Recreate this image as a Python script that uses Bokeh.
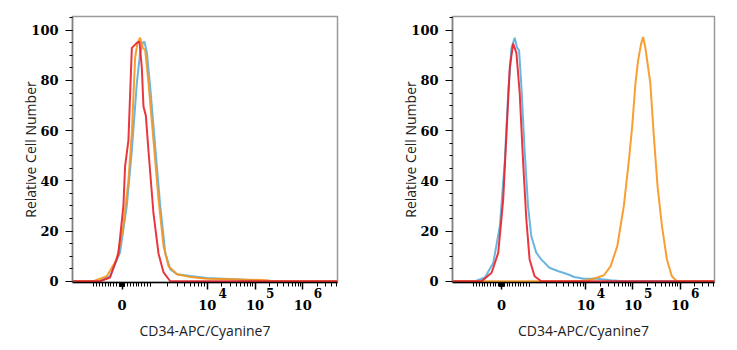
import numpy as np
from bokeh.plotting import figure
from bokeh.layouts import row
from bokeh.models import FixedTicker, Range1d, LinearAxis
from bokeh.embed import file_html
from bokeh.resources import INLINE

# x values are in display (biexponential) units: 0 -> 2.21, 10^4 -> 4, 10^5 -> 5, 10^6 -> 6
ZERO_POS = 2.21
THOUSAND_POS = 2.8
POWER_POS = [4.0, 5.0, 6.0]
POWER_EXP = ["4", "5", "6"]
Y_TICKS = [0, 20, 40, 60, 80, 100]

# Left panel
L_red_x = [1.17, 1.747, 1.958, 2.133, 2.238, 2.274, 2.343, 2.415, 2.52, 2.575, 2.625, 2.659, 2.709,
           2.764, 2.869, 2.975, 3.08, 3.221, 6.73]
L_red_y = [0, 0, 1.5, 11, 30, 46, 56, 93, 95, 95.5, 85, 69.6, 66, 52, 27, 11, 3.5, 0, 0]

L_orange_x = [1.17, 1.606, 1.888, 2.099, 2.238, 2.343, 2.415, 2.484, 2.533, 2.589, 2.646, 2.695, 2.764,
              2.869, 2.975, 3.08, 3.185, 3.362, 3.642, 3.994, 4.547, 5.257, 5.326, 6.73]
L_orange_y = [0, 0, 2, 8.7, 22, 40, 59, 89, 95, 97, 93, 92, 79, 56, 32.5, 14, 6, 2.8, 1.7, 1.0, 0.8,
              0.4, 0, 0]

L_blue_x = [1.17, 1.747, 1.958, 2.168, 2.309, 2.415, 2.52, 2.589, 2.646, 2.68, 2.731, 2.8, 2.905,
            3.011, 3.116, 3.221, 3.362, 3.642, 3.994, 4.554, 4.968, 5.116, 6.73]
L_blue_y = [0, 0, 2, 11.5, 30, 52, 79, 91, 95, 95.5, 91, 77.5, 53.7, 30, 11.4, 4.8, 2.8, 2.1, 1.3,
            0.8, 0.4, 0, 0]

# Right panel
R_red_x = [1.17, 1.789, 2.0, 2.141, 2.246, 2.316, 2.385, 2.457, 2.526, 2.596, 2.667, 2.737, 2.806,
           2.912, 3.053, 6.73]
R_red_y = [0, 0, 3.4, 11.4, 32.5, 59, 85, 94.7, 91, 75, 48, 24.6, 8.7, 2, 0, 0]

R_blue_x = [1.17, 1.648, 1.859, 2.036, 2.175, 2.28, 2.352, 2.421, 2.491, 2.541, 2.583, 2.632, 2.701,
            2.773, 2.842, 2.947, 3.053, 3.227, 3.404, 3.615, 3.754, 3.964, 4.246, 4.526, 4.806, 6.73]
R_blue_y = [0, 0, 1.5, 7.4, 22, 48, 75, 93, 97, 93, 92, 77.5, 52, 30, 18, 11.4, 8.7, 5.4, 4.1, 2.8,
            1.7, 1.0, 1.0, 0.4, 0, 0]

R_orange_x = [1.17, 3.825, 4.036, 4.246, 4.385, 4.526, 4.667, 4.806, 4.912, 4.983, 5.053, 5.109, 5.173,
              5.215, 5.263, 5.368, 5.438, 5.522, 5.615, 5.72, 5.825, 5.931, 6.73]
R_orange_y = [0, 0, 0.4, 1.5, 2.4, 6, 14, 30, 48, 61.6, 79, 88, 94.7, 97.3, 93, 79, 59, 37.8, 22, 8.7,
              2, 0, 0]

RED = "#e8202a"
ORANGE = "#f7941d"
BLUE = "#5aaedb"
SERIF = "DejaVu Serif"
EXP_SHIFT = 0.32    # exponent sits right of the "10"


def minor_x_ticks():
    t = [THOUSAND_POS]
    for v in list(range(-1000, 1001, 100)) + list(range(-90, 91, 10)):
        t.append(ZERO_POS + (THOUSAND_POS - ZERO_POS) * v / 1000.0)
    for m in range(2, 10):
        t.append(THOUSAND_POS + (4.0 - THOUSAND_POS) * np.log10(m))
    for d in (4, 5, 6):
        for m in range(2, 10):
            t.append(d + np.log10(m))
    return [float(v) for v in t if 1.17 < v < 6.73]


def make_fig(width, left, right, curves):
    p = figure(width=width, height=350, x_range=Range1d(1.17, 6.73), y_range=Range1d(-0.5, 105.5),
               output_backend="svg", toolbar_location=None,
               min_border_left=left, min_border_right=right, min_border_top=16, min_border_bottom=68)
    p.xgrid.visible = False
    p.ygrid.visible = False
    p.outline_line_color = "#9a9a9a"
    p.outline_line_width = 1.5
    p.background_fill_color = "white"
    p.border_fill_color = "white"

    for xs, ys, c in curves:
        p.line(xs, ys, line_color=c, line_width=2, line_alpha=0.9)

    # main x axis: ticks, "0" and "10" labels, axis title
    xa = p.xaxis[0]
    major = [ZERO_POS] + POWER_POS
    xa.ticker = FixedTicker(ticks=major, minor_ticks=minor_x_ticks())
    xa.major_label_overrides = {float(k): v for k, v in zip(major, ["0", "10", "10", "10"])}
    xa.axis_line_color = "black"
    xa.axis_line_width = 1.5
    xa.major_tick_out = 7
    xa.major_tick_in = 0
    xa.minor_tick_out = 4
    xa.minor_tick_in = 0
    xa.major_tick_line_width = 1.5
    xa.major_label_text_font = SERIF
    xa.major_label_text_font_style = "bold"
    xa.major_label_text_font_size = "13px"
    xa.major_label_text_color = "black"
    xa.major_label_standoff = 10
    xa.axis_label = "CD34-APC/Cyanine7"
    xa.axis_label_text_font = "Open Sans"
    xa.axis_label_text_font_style = "normal"
    xa.axis_label_text_font_size = "14px"
    xa.axis_label_text_color = "#222222"
    xa.axis_label_standoff = 8

    # exponent row, pulled back up beside the "10"s
    exp_ticks = [x + EXP_SHIFT for x in POWER_POS]
    ex = LinearAxis(ticker=FixedTicker(ticks=exp_ticks, minor_ticks=[]))
    ex.major_label_overrides = {float(k): v for k, v in zip(exp_ticks, POWER_EXP)}
    ex.axis_line_color = None
    ex.major_tick_line_color = None
    ex.minor_tick_line_color = None
    ex.major_tick_out = 0
    ex.major_tick_in = 0
    ex.minor_tick_out = 0
    ex.minor_tick_in = 0
    ex.major_label_text_font = SERIF
    ex.major_label_text_font_style = "bold"
    ex.major_label_text_font_size = "12px"
    ex.major_label_text_color = "black"
    ex.major_label_standoff = -55
    p.add_layout(ex, "below")

    ya = p.yaxis[0]
    ya.ticker = FixedTicker(ticks=Y_TICKS, minor_ticks=list(range(0, 106, 5)))
    ya.axis_line_color = "#808080"
    ya.axis_line_width = 1.5
    ya.major_tick_out = 7
    ya.major_tick_in = 0
    ya.minor_tick_out = 3
    ya.minor_tick_in = 0
    ya.major_label_text_font = SERIF
    ya.major_label_text_font_style = "bold"
    ya.major_label_text_font_size = "13px"
    ya.major_label_text_color = "black"
    ya.major_label_standoff = 7
    ya.axis_label = "Relative Cell Number"
    ya.axis_label_text_font = "Open Sans"
    ya.axis_label_text_font_style = "normal"
    ya.axis_label_text_font_size = "14px"
    ya.axis_label_text_color = "#222222"
    ya.axis_label_standoff = -12
    return p


p1 = make_fig(368, 72, 31, [(L_blue_x, L_blue_y, BLUE), (L_orange_x, L_orange_y, ORANGE),
                            (L_red_x, L_red_y, RED)])
p2 = make_fig(369, 84, 23, [(R_blue_x, R_blue_y, BLUE), (R_orange_x, R_orange_y, ORANGE),
                            (R_red_x, R_red_y, RED)])

layout = row(p1, p2)
open("out.html", "w").write(file_html(layout, INLINE))
